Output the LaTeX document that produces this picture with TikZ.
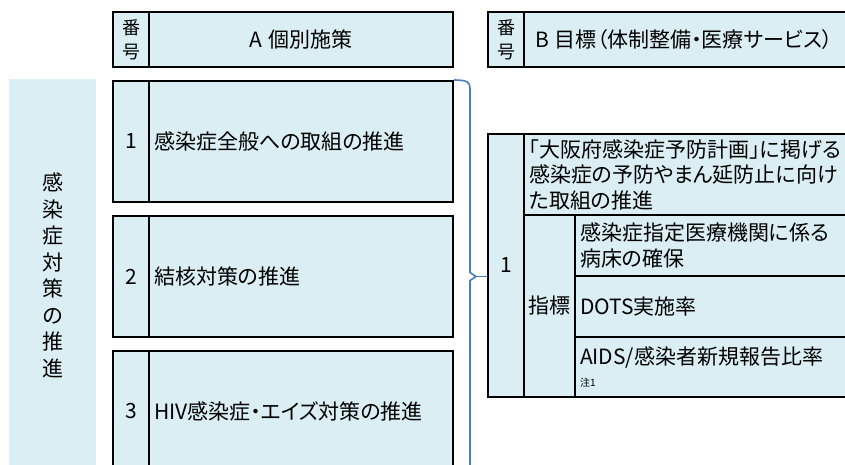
\documentclass[tikz,border=0pt]{standalone}
\usepackage{fontspec}
\setmainfont{Noto Sans CJK JP}[RawFeature=+palt]
\usetikzlibrary{positioning,calc}
\definecolor{cellblue}{HTML}{DAEEF3}
\definecolor{bracecol}{HTML}{4A7EBB}

\begin{document}
\begin{tikzpicture}[x=1pt,y=-1pt,
				cell/.style={draw,line width=2pt,fill=cellblue,anchor=north west,inner sep=0pt,font=\fontsize{21}{25.5}\selectfont},
				numcell/.style={cell,minimum width=36pt,align=center},
				txtcell/.style={cell,align=left,inner xsep=5pt,text width=#1},
				brace/.style={draw=bracecol,line width=1.6pt}]
			\useasboundingbox (0,0) rectangle (845,464);
			% side label
			\node [fill=cellblue,anchor=north west,minimum width=87pt,minimum height=392pt,align=center,
				font=\fontsize{21}{26.5}\selectfont] (side) at (9,79) {感\\染\\症\\対\\策\\の\\推\\進};
			% headers
			\node [numcell,minimum height=55pt,font=\fontsize{18}{24}\selectfont] (na) at (112,11) {番\\号};
			\node [cell,minimum width=304pt,minimum height=55pt] (ha) at (148,11) {A\hspace{6pt}個別施策};
			\node [numcell,minimum height=55pt,font=\fontsize{18}{24}\selectfont] (nb) at (487,11) {番\\号};
			\node [txtcell=307pt,inner xsep=11pt,minimum height=55pt] (hb) at (523,11) {B\hspace{6pt}目標（体制整備・医療サービス）};
			% A rows
			\node [numcell,minimum height=121pt] (n1) at (112,80) {1};
			\node [txtcell=294pt,minimum height=121pt] (a1) at (148,80) {感染症全般への取組の推進};
			\node [numcell,minimum height=121pt] (n2) at (112,215) {2};
			\node [txtcell=294pt,minimum height=121pt] (a2) at (148,215) {結核対策の推進};
			\node [numcell,minimum height=121pt] (n3) at (112,350) {3};
			\node [txtcell=294pt,minimum height=121pt] (a3) at (148,350) {HIV感染症・エイズ対策の推進};
			% B table
			\node [numcell,minimum height=263pt] (nb1) at (487,133) {1};
			\node [txtcell=317pt,minimum height=81pt] (b1) at (523,133) {「大阪府感染症予防計画」に掲げる\\感染症の予防やまん延防止に向け\\た取組の推進};
			\node [cell,minimum width=51pt,minimum height=182pt] (idx) at (523,214) {指標};
			\node [txtcell=266pt,minimum height=61pt] (b2) at (574,214) {感染症指定医療機関に係る\\病床の確保};
			\node [txtcell=266pt,minimum height=61pt] (b3) at (574,275) {DOTS実施率};
			\node [txtcell=266pt,minimum height=60pt] (b4) at (574,336) {AIDS/感染者新規報告比率\\[-3pt]{\fontsize{10}{12}\selectfont 注1}};
			% brace
			\draw [brace] (a1.north east) .. controls ([xshift=13pt]a1.north east) and ([xshift=16pt,yshift=-2pt]a1.north east) .. ([xshift=16pt,yshift=-8pt]a1.north east)
				-- ([xshift=16pt,yshift=4pt]a2.east) -- ([xshift=22pt]a2.east) -- ([xshift=16pt,yshift=-4pt]a2.east)
				-- ([xshift=16pt]a3.south east);
			\draw [brace] ([xshift=22pt]a2.east) -- (a2.east -| nb1.west);
		\end{tikzpicture}
\end{document}
